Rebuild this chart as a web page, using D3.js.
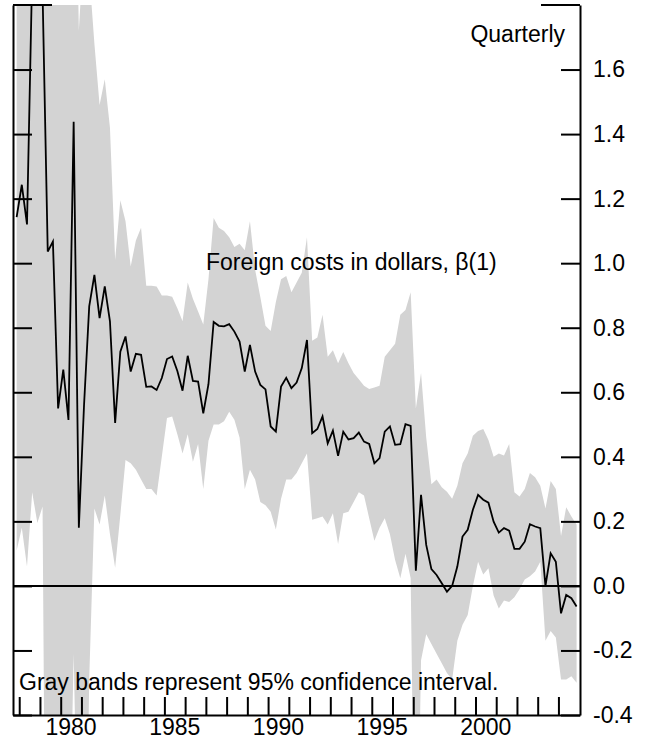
<!DOCTYPE html>
<html>
<head>
<meta charset="utf-8">
<script src="https://cdnjs.cloudflare.com/ajax/libs/d3/7.8.5/d3.min.js"></script>
<style>
  body { margin: 0; background: #fff; }
  svg text { font-family: 'Liberation Sans', Arial, sans-serif; font-size: 23px; fill: #000; }
</style>
</head>
<body>
<div class="vis"></div>
<script>
// quarterly estimates, first observation 1977Q4
const firstYear = 1977
const firstQuarter = 4

const beta = [
  1.143, 1.243, 1.12, 1.9, 2.4, 1.84, 1.036, 1.067, 0.55, 0.67,
  0.514, 1.438, 0.18, 0.56, 0.866, 0.964, 0.83, 0.928, 0.82, 0.505,
  0.726, 0.773, 0.664, 0.719, 0.716, 0.617, 0.618, 0.607, 0.644, 0.703,
  0.711, 0.666, 0.605, 0.713, 0.635, 0.633, 0.535, 0.625, 0.818, 0.806,
  0.804, 0.811, 0.788, 0.757, 0.664, 0.747, 0.664, 0.623, 0.609, 0.494,
  0.478, 0.618, 0.645, 0.613, 0.63, 0.675, 0.762, 0.473, 0.486, 0.525,
  0.442, 0.481, 0.403, 0.478, 0.454, 0.458, 0.475, 0.447, 0.44, 0.38,
  0.396, 0.478, 0.494, 0.437, 0.439, 0.501, 0.496, 0.047, 0.282, 0.127,
  0.052, 0.034, 0.008, -0.018, 0.0, 0.06, 0.153, 0.174, 0.236, 0.282,
  0.267, 0.258, 0.199, 0.165, 0.179, 0.171, 0.115, 0.115, 0.137, 0.191,
  0.184, 0.179, 0.0, 0.101, 0.075, -0.085, -0.028, -0.038, -0.064
]

// 95% confidence band
const upper = [
  2.4, 2.5, 2.6, 3.0, 3.2, 3.0, 2.8, 2.6, 2.4, 2.3,
  2.2, 2.6, 1.72, 2.0, 1.9, 1.68, 1.49, 1.57, 1.42, 1.01,
  1.195, 1.13, 0.99, 1.07, 1.11, 0.93, 0.93, 0.928, 0.9, 0.9,
  0.896, 0.86, 0.82, 0.94, 0.89, 0.85, 0.81, 0.95, 1.14, 1.11,
  1.1, 1.08, 1.05, 1.06, 1.04, 1.13, 0.98, 0.895, 0.806, 0.79,
  0.88, 0.95, 0.96, 0.91, 0.94, 0.97, 1.08, 0.76, 0.77, 0.84,
  0.71, 0.73, 0.69, 0.725, 0.69, 0.66, 0.64, 0.62, 0.61, 0.615,
  0.62, 0.71, 0.73, 0.75, 0.84, 0.855, 0.91, 0.55, 0.66, 0.46,
  0.315, 0.33, 0.306, 0.292, 0.27, 0.31, 0.38, 0.41, 0.465, 0.48,
  0.486, 0.452, 0.4, 0.41, 0.404, 0.44, 0.29, 0.277, 0.3, 0.35,
  0.337, 0.31, 0.24, 0.325, 0.3, 0.155, 0.244, 0.215, 0.19
]
const lower = [
  0.11, 0.18, 0.06, 0.29, 0.195, 0.246, -2.0, -2.2, -2.0, -1.6,
  -1.0, -0.21, -1.0, -1.4, -0.29, 0.24, 0.19, 0.28, 0.16, 0.056,
  0.22, 0.39, 0.38, 0.36, 0.33, 0.3, 0.3, 0.28, 0.4, 0.52,
  0.525, 0.47, 0.41, 0.47, 0.385, 0.44, 0.3, 0.45, 0.5, 0.5,
  0.51, 0.54, 0.515, 0.46, 0.3, 0.36, 0.33, 0.26, 0.25, 0.23,
  0.175, 0.27, 0.33, 0.33, 0.35, 0.38, 0.41, 0.205, 0.21, 0.215,
  0.19, 0.225, 0.13, 0.225, 0.23, 0.26, 0.29, 0.28, 0.21, 0.14,
  0.18, 0.21, 0.16, 0.08, 0.024, 0.1, 0.024, -1.2, -0.23, -0.15,
  -0.18, -0.21, -0.24, -0.27, -0.29, -0.17, -0.12, -0.09, 0.0, 0.075,
  0.035, 0.055, -0.03, -0.07, -0.045, -0.05, -0.035, -0.01, 0.02, 0.03,
  0.045, 0.075, -0.17, -0.14, -0.16, -0.29, -0.29, -0.28, -0.3
]

const yearTicks = [1978, 1979, 1980, 1981, 1982, 1983, 1984, 1985, 1986, 1987,
  1988, 1989, 1990, 1991, 1992, 1993, 1994, 1995, 1996, 1997,
  1998, 1999, 2000, 2001, 2002, 2003, 2004]
const yearLabels = [1980, 1985, 1990, 1995, 2000]
const yTicks = [-0.4, -0.2, 0, 0.2, 0.4, 0.6, 0.8, 1.0, 1.2, 1.4, 1.6]

const W = 646
const H = 747
const margin = { left: 13, right: 580, top: 5, bottom: 715 }

const svg = d3
  .select('.vis')
  .append('svg')
  .attr('width', W)
  .attr('height', H)

// quarter midpoints
const data = beta.map((b, i) => {
  const q = firstQuarter - 1 + i
  return {
    t: firstYear + Math.floor(q / 4) + ((q % 4) + 0.5) / 4,
    b: b,
    hi: upper[i],
    lo: lower[i]
  }
})

const x = d3
  .scaleLinear()
  .domain([1977.7, 2005.04])
  .range([margin.left, margin.right])
const y = d3
  .scaleLinear()
  .domain([-0.4, 1.8])
  .range([margin.bottom, margin.top])

svg
  .append('clipPath')
  .attr('id', 'plot-clip')
  .append('rect')
  .attr('x', margin.left)
  .attr('y', margin.top)
  .attr('width', margin.right - margin.left)
  .attr('height', margin.bottom - margin.top)

const plot = svg.append('g').attr('clip-path', 'url(#plot-clip)')

const band = d3
  .area()
  .x(d => x(d.t))
  .y0(d => y(d.lo))
  .y1(d => y(d.hi))

plot
  .append('path')
  .datum(data)
  .attr('d', band)
  .attr('fill', '#d3d3d3')

const line = d3
  .line()
  .x(d => x(d.t))
  .y(d => y(d.b))

plot
  .append('path')
  .datum(data)
  .attr('d', line)
  .attr('fill', 'none')
  .attr('stroke', '#000')
  .attr('stroke-width', 1.8)

// zero line
svg
  .append('line')
  .attr('x1', margin.left)
  .attr('x2', margin.right)
  .attr('y1', y(0))
  .attr('y2', y(0))
  .attr('stroke', '#000')
  .attr('stroke-width', 2)

// axes, ticks point inward
const yAxisLeft = d3
  .axisLeft(y)
  .tickValues(yTicks)
  .tickSize(-19)
  .tickSizeOuter(0)
  .tickFormat('')

const yAxisRight = d3
  .axisRight(y)
  .tickValues(yTicks)
  .tickSize(-19)
  .tickSizeOuter(0)
  .tickPadding(13)
  .tickFormat(d => d.toFixed(1))

const xAxis = d3
  .axisBottom(x)
  .tickValues(yearTicks)
  .tickSize(-18)
  .tickSizeOuter(0)
  .tickFormat('')

svg
  .append('g')
  .attr('class', 'y axis left')
  .attr('transform', `translate(${margin.left},0)`)
  .call(yAxisLeft)

svg
  .append('g')
  .attr('class', 'y axis right')
  .attr('transform', `translate(${margin.right},0)`)
  .call(yAxisRight)

svg
  .append('g')
  .attr('class', 'x axis')
  .attr('transform', `translate(0,${margin.bottom})`)
  .call(xAxis)

svg.selectAll('.axis .domain').attr('stroke', '#000').attr('stroke-width', 2)
svg.selectAll('.axis .tick line').attr('stroke', '#000').attr('stroke-width', 2)
svg
  .selectAll('.axis text')
  .style('font-family', "'Liberation Sans', Arial, sans-serif")
  .style('font-size', '23px')
  .attr('fill', '#000')

// long tick marks at the top of both axes
svg
  .selectAll('.top-tick')
  .data([[margin.left, margin.left + 39], [margin.right - 39, margin.right]])
  .enter()
  .append('line')
  .attr('class', 'top-tick')
  .attr('x1', d => d[0])
  .attr('x2', d => d[1])
  .attr('y1', y(1.8))
  .attr('y2', y(1.8))
  .attr('stroke', '#000')
  .attr('stroke-width', 2)

// year labels sit in the middle of each year
svg
  .selectAll('.year-label')
  .data(yearLabels)
  .enter()
  .append('text')
  .attr('class', 'year-label')
  .attr('x', d => x(d + 0.5))
  .attr('y', 735)
  .attr('text-anchor', 'middle')
  .text(d => d)

svg
  .append('text')
  .attr('x', 565)
  .attr('y', 42)
  .attr('text-anchor', 'end')
  .text('Quarterly')

svg
  .append('text')
  .attr('x', 206)
  .attr('y', 270)
  .text('Foreign costs in dollars, β(1)')

svg
  .append('text')
  .attr('x', 19)
  .attr('y', 690)
  .text('Gray bands represent 95% confidence interval.')
</script>
</body>
</html>
